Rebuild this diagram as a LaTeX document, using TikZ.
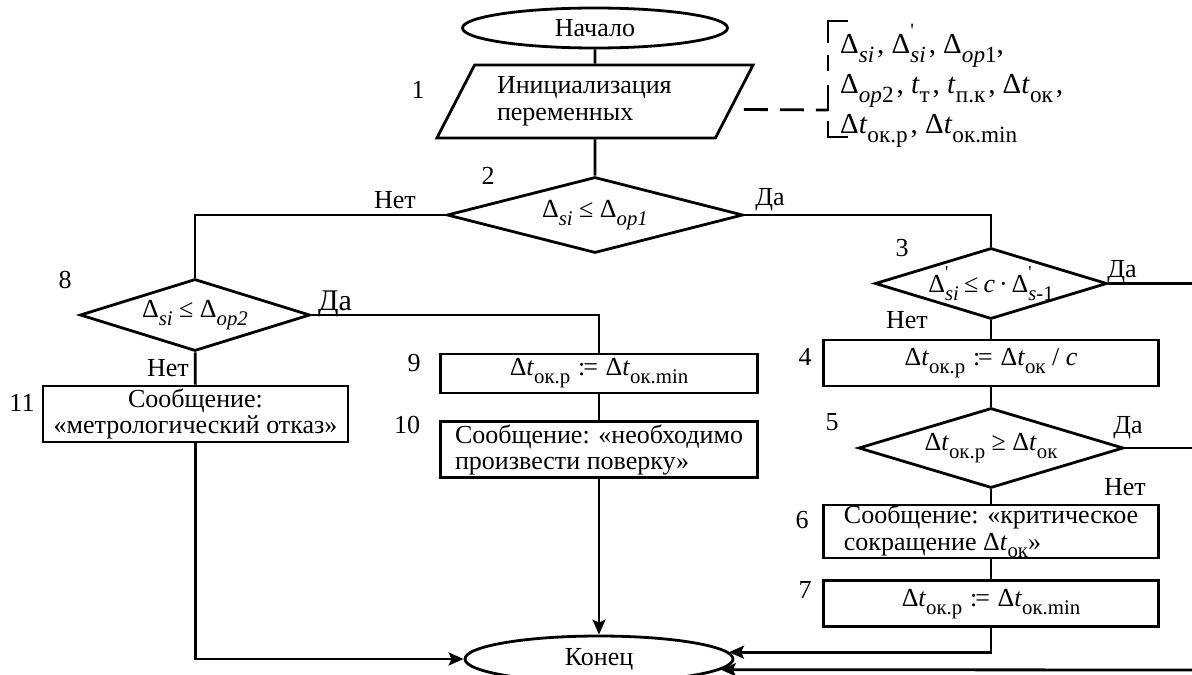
\documentclass[tikz,border=0pt]{standalone}
\usepackage{fontspec}
\setmainfont{Liberation Serif}
\usetikzlibrary{shapes.geometric, arrows.meta, positioning}

\makeatletter
\newcommand{\smallsize}[1]{\fontsize{\strip@pt\dimexpr#1\dimexpr\f@size pt\relax\relax}{0}\selectfont}
\makeatother
\newcommand{\sub}[1]{\raisebox{-0.3em}{\smallsize{0.8}#1}}
\newcommand{\dpr}[1]{Δ\rlap{\raisebox{0.55em}{\smallsize{0.7}\textquotesingle}}\sub{#1}}
\newcommand{\dt}[1]{Δ\textit{t}\sub{#1}}
\newcommand{\assign}{\kern.3em:\kern-0.08em=\kern.3em}
\newcommand{\cond}[1]{\makebox[0pt]{#1}}

\tikzset{
  base/.style={draw, line width=2.8pt, font=\fontsize{26}{26.5}\selectfont},
  terminal/.style={base, ellipse, inner sep=0pt},
  io/.style={base, trapezium, trapezium stretches=true,
             trapezium left angle=58, trapezium right angle=122,
             minimum width=317pt, minimum height=73pt,
             text width=196pt, align=left, inner sep=0pt},
  decision/.style={base, diamond, inner sep=0pt},
  process/.style={base, rectangle, inner sep=0pt, align=center},
  line/.style={line width=2.8pt},
  arrow/.style={line, -{Stealth[length=15pt, width=13pt, inset=3pt]}},
  num/.style={font=\fontsize{26}{26}\selectfont, inner sep=0pt},
  comment/.style={line width=2.8pt, dash pattern=on 24pt off 12pt},
}

\begin{document}
\begin{tikzpicture}[x=1pt, y=-1pt]
  \useasboundingbox (0,0) rectangle (1192,675);

  % main column
  \node[terminal, minimum width=265pt, minimum height=40pt] (start) at (595,28) {Начало};
  \node[io] (init) at (595,101.5) {Инициализация\\переменных};
  \node[decision, minimum width=296pt, minimum height=76pt] (d2) at (595,215)
    {\cond{Δ\sub{\textit{si}} ≤ Δ\sub{\textit{op1}}}};

  % right branch
  \node[decision, minimum width=232pt, minimum height=71pt] (d3) at (991,283.5)
    {\cond{\dpr{\textit{si}}\kern.2em≤\kern.2em\textit{c}\kern.15em·\kern.15em\dpr{\textit{s}-1}}};
  \node[process, minimum width=335pt, minimum height=46pt] (b4) at (991,363)
    {\dt{ок.р}\assign\dt{ок} / \textit{c}};
  \node[decision, minimum width=265pt, minimum height=80pt] (d5) at (991,448)
    {\cond{\dt{ок.р} ≥ \dt{ок}}};
  \node[process, minimum width=335pt, minimum height=53pt, align=left] (b6) at (991,531.5)
    {Сообщение: «критическое\\сокращение \dt{ок}»};
  \node[process, minimum width=335pt, minimum height=46pt, below=20pt of b6] (b7)
    {\dt{ок.р}\assign\dt{ок.min}};

  % left branch
  \node[decision, minimum width=230pt, minimum height=72pt] (d8) at (195,315)
    {\cond{Δ\sub{\textit{si}} ≤ Δ\sub{\textit{op2}}}};
  \node[process, minimum width=317pt, minimum height=39pt] (b9) at (599,373.5)
    {\dt{ок.р}\assign\dt{ок.min}};
  \node[process, minimum width=317pt, minimum height=56pt, align=left, below=26pt of b9] (b10)
    {Сообщение: «необходимо\\произвести поверку»};
  \node[process, minimum width=305pt, minimum height=56pt] (b11) at (195.5,414)
    {Сообщение:\\«метрологический отказ»};

  \node[terminal, minimum width=268pt, minimum height=46pt] (end) at (599,659) {Конец};

  % list of variables
  \node[font=\fontsize{29}{40}\selectfont, align=left, anchor=north west, inner sep=0pt] (vars) at (840,24)
    {Δ\sub{\textit{si}}\kern.1em, \dpr{\textit{si}}\kern.1em, Δ\sub{\textit{op}1},\\
     Δ\sub{\textit{op}2}\kern.1em, \textit{t}\sub{т}\kern.1em, \textit{t}\sub{п.к}\kern.1em, \dt{ок}\kern.1em,\\
     \dt{ок.р}\kern.1em, \dt{ок.min}};
  \coordinate (brk) at (828,110);
  \draw[comment] ([shift={(8pt,-8pt)}]init.east) -- (brk);
  \draw[comment, dash pattern=on 42pt off 12pt on 16pt off 14pt on 26pt off 10pt on 36pt]
    (848,21) -- (828,21) -- (828,137) -- (848,137);

  % block numbers
  \node[num] (n1) at (418,90) {1};
  \node[num] (n2) at (488,176) {2};
  \node[num] (n3) at (902,248) {3};
  \node[num] (n4) at (805,357) {4};
  \node[num] (n5) at (832,422) {5};
  \node[num] (n6) at (802,520) {6};
  \node[num] (n7) at (805,590) {7};
  \node[num] (n8) at (65,280) {8};
  \node[num] (n9) at (414,363) {9};
  \node[num] (n10) at (407,425) {10};
  \node[num] (n11) at (22,403) {11};

  % answers
  \node[num] (no2) at (395,200) {Нет};
  \node[num] (yes2) at (770,200) {Да};
  \node[num] (yes3) at (1122,272) {Да};
  \node[num] (no3) at (907,320) {Нет};
  \node[num] (yes5) at (1128,428) {Да};
  \node[num] (no5) at (1125,487) {Нет};
  \node[num, font=\fontsize{30}{30}\selectfont] (yes8) at (335,304) {Да};
  \node[num] (no8) at (168,368) {Нет};

  % connectors
  \draw[line] (start) -- (init);
  \draw[line] (init) -- (d2);
  \draw[line] (d2.west) -| (d8.north);
  \draw[line] (d2.east) -| (d3.north);
  \draw[line] (d3) -- (b4);
  \draw[line] (b4) -- (d5);
  \draw[line] (d5) -- (b6);
  \draw[line] (b6) -- (b7);
  \draw[line] (d8.east) -| (b9.north);
  \draw[line] (b9) -- (b10);
  \draw[line] (d8) -- (b11);
  \draw[arrow] (b10) -- (end);
  \draw[arrow] (b11.south) |- (end.west);
  \draw[arrow] (b7.south) |- (end.3.6);
  \coordinate (rb) at (1195,670);
  \draw[line] (d5.east) -- (d5.east -| rb);
  \draw[arrow] (d3.east) -| (rb) -- (end.-5.3);
\end{tikzpicture}
\end{document}
